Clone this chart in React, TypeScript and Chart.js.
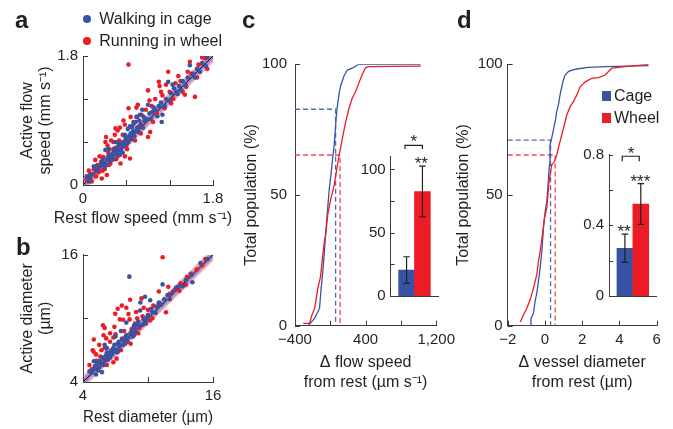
import React, { useEffect, useRef } from 'react';
import { Chart, registerables } from 'chart.js';

Chart.register(...registerables);

const FONT = "'Liberation Sans', Arial, Helvetica, sans-serif";
const TEXT = '#231f20';
const AXIS = '#3a3a3a';
const BLUE = '#3953a4';
const RED = '#ed1c24';
const BLUE_DASH = '#5269b4';
const RED_DASH = '#ef4a50';
const BAND_RED = 'rgba(237,100,120,0.55)';
const BAND_BLUE = 'rgba(100,120,215,0.6)';

Chart.defaults.font.family = FONT;
Chart.defaults.color = TEXT;

type Pt = [number, number];

// ---------------- Panel a : flow speed (mm s-1) ----------------
const aWalkingCage: Pt[] = [
  [0.05, 0.12], [0.1, 0.1], [0.15, 0.26], [0.18, 0.2], [0.22, 0.25], [0.25, 0.3], [0.28, 0.3], [0.31, 0.49],
  [0.33, 0.35], [0.35, 0.4], [0.38, 0.42], [0.4, 0.38], [0.42, 0.45], [0.44, 0.5], [0.46, 0.44], [0.48, 0.52],
  [0.5, 0.55], [0.52, 0.48], [0.54, 0.58], [0.56, 0.6], [0.58, 0.7], [0.6, 0.62], [0.62, 0.78], [0.64, 0.68],
  [0.66, 0.72], [0.68, 0.8], [0.7, 0.85], [0.72, 0.75], [0.75, 0.8], [0.78, 0.9], [0.8, 0.85], [0.84, 0.95],
  [0.88, 0.92], [0.92, 1.0], [0.96, 1.02], [1.0, 1.05], [1.05, 1.1], [1.1, 0.98], [1.09, 0.88], [1.15, 1.2],
  [1.18, 1.44], [1.22, 1.28], [1.26, 1.35], [1.29, 1.3], [1.33, 1.38], [1.38, 1.45], [1.45, 1.5], [1.48, 1.67],
  [1.52, 1.55], [1.58, 1.62], [1.65, 1.7], [1.72, 1.78], [0.36, 0.5], [0.45, 0.6], [0.55, 0.45], [0.65, 0.82],
  [0.74, 0.95], [0.82, 1.05], [0.9, 1.12], [0.3, 0.25], [0.08, 0.05], [0.12, 0.15], [0.2, 0.22], [0.27, 0.35],
  [0.32, 0.28], [0.37, 0.33], [0.41, 0.41], [0.43, 0.36], [0.47, 0.47], [0.49, 0.58], [0.51, 0.42], [0.53, 0.52],
  [0.57, 0.54], [0.59, 0.66], [0.61, 0.58], [0.63, 0.6], [0.67, 0.64], [0.69, 0.74], [0.71, 0.68], [0.73, 0.88],
  [0.77, 0.74], [0.79, 0.98], [0.83, 0.8], [0.86, 0.9], [0.94, 0.92], [0.98, 1.08], [1.03, 0.96], [1.08, 1.15],
  [1.13, 1.1], [1.2, 1.18], [1.24, 1.4], [1.31, 1.27], [1.36, 1.32], [1.42, 1.4], [1.55, 1.5], [1.62, 1.58],
  [1.7, 1.66],
];
const aRunningWheel: Pt[] = [
  [0.08, 0.2], [0.05, 0.08], [0.17, 0.35], [0.2, 0.28], [0.26, 0.09], [0.33, 0.14], [0.28, 0.39], [0.31, 0.6],
  [0.32, 0.67], [0.42, 0.6], [0.45, 0.79], [0.48, 0.76], [0.58, 0.84], [0.63, 1.07], [0.74, 1.08], [0.81, 0.98],
  [0.63, 1.68], [0.65, 0.37], [0.58, 0.4], [0.93, 0.74], [0.9, 0.67], [0.9, 1.32], [1.05, 1.44], [1.06, 1.38],
  [1.13, 1.07], [1.18, 1.58], [1.32, 1.52], [1.41, 1.26], [1.43, 1.37], [1.48, 1.72], [1.55, 1.23], [1.69, 1.77],
  [1.72, 1.62], [0.35, 0.45], [0.4, 0.35], [0.45, 0.52], [0.5, 0.62], [0.55, 0.7], [0.6, 0.55], [0.52, 0.3],
  [0.38, 0.3], [0.3, 0.22], [0.22, 0.18], [0.15, 0.22], [0.7, 0.88], [0.75, 0.95], [0.78, 0.82], [0.85, 0.9],
  [0.95, 1.1], [1.0, 1.2], [1.02, 1.0], [1.1, 1.25], [1.2, 1.3], [1.25, 1.2], [1.35, 1.45], [1.5, 1.55],
  [1.6, 1.68], [0.68, 0.72], [0.62, 0.65], [0.48, 0.4], [0.42, 0.5], [0.25, 0.32], [0.12, 0.05], [0.1, 0.15],
  [0.18, 0.12], [0.23, 0.4], [0.27, 0.2], [0.34, 0.55], [0.36, 0.28], [0.39, 0.62], [0.44, 0.7], [0.46, 0.36],
  [0.51, 0.8], [0.53, 0.55], [0.56, 0.9], [0.61, 0.5], [0.66, 0.95], [0.72, 0.62], [0.76, 1.12], [0.8, 0.72],
  [0.87, 1.05], [0.92, 1.18], [0.97, 0.88], [1.08, 1.3], [1.15, 1.4], [1.22, 1.14], [1.28, 1.42], [1.38, 1.3],
  [1.45, 1.58], [1.58, 1.5], [1.65, 1.78],
];
const aRange: Pt = [0, 1.8];
const aTicks = [0, 0.6, 1.2, 1.8];
const aTickLabels = ['0', '', '', '1.8'];
const aBandRedHalf = 0.09;
const aBandBlueHalf = 0.05;

// ---------------- Panel b : diameter (um) ----------------
const bWalkingCage: Pt[] = [
  [8.28, 13.93], [14.84, 15.22], [14.1, 13.4], [11.35, 13.2], [9.73, 12.04], [9.27, 10.74], [10.8, 11.1], [11.2, 11.3],
  [5.0, 5.95], [5.75, 4.93], [5.0, 5.2], [5.3, 5.8], [5.5, 6.0], [5.8, 6.3], [6.0, 6.0], [6.2, 6.8], [6.4, 6.6],
  [6.6, 6.9], [6.8, 7.2], [7.0, 7.0], [7.2, 7.6], [7.4, 7.4], [7.6, 8.0], [7.8, 7.9], [8.0, 8.4], [8.2, 8.2],
  [8.5, 8.8], [8.8, 9.0], [9.0, 9.4], [9.3, 9.3], [9.6, 9.9], [10.0, 10.3], [10.4, 10.6], [11.0, 11.5], [11.8, 12.2],
  [12.3, 12.5], [12.8, 13.0], [13.5, 13.6], [15.5, 15.6], [6.0, 7.5], [7.5, 8.8], [5.5, 5.4], [6.5, 6.3], [7.3, 7.0],
  [8.6, 8.3], [9.8, 9.6], [4.6, 5.0], [5.2, 4.7], [4.8, 4.9], [5.1, 5.5], [5.4, 5.1], [5.6, 5.9], [5.9, 5.6],
  [6.1, 6.5], [6.3, 6.1], [6.7, 6.6], [6.9, 7.5], [7.1, 6.8], [7.3, 7.8], [7.7, 7.5], [7.9, 8.2], [8.1, 7.8],
  [8.4, 8.6], [8.7, 9.3], [8.9, 8.7], [9.1, 9.7], [9.5, 9.4], [9.9, 10.0], [10.3, 10.9], [10.7, 10.5], [11.5, 11.8],
  [12.0, 11.8], [12.6, 12.9], [13.2, 13.0], [14.0, 14.1], [8.0, 9.6], [7.0, 8.3], [6.2, 7.2], [9.3, 11.5], [10.2, 11.7],
];
const bRunningWheel: Pt[] = [
  [11.35, 15.76], [13.95, 14.2], [13.5, 13.16], [14.5, 14.6], [11.0, 12.53], [11.87, 12.97], [9.4, 11.88], [8.35, 11.76],
  [7.58, 11.2], [8.0, 11.0], [6.97, 10.43], [5.84, 9.35], [7.7, 9.87], [8.3, 9.9], [9.0, 10.0], [11.66, 10.58],
  [4.97, 6.88], [6.8, 5.86], [6.14, 8.11], [6.8, 8.2], [5.0, 8.0], [5.5, 7.5], [6.0, 7.2], [6.5, 7.8], [7.0, 8.5],
  [7.3, 7.5], [7.8, 8.8], [8.5, 9.0], [8.8, 9.5], [9.5, 10.2], [10.0, 10.8], [10.5, 11.2], [10.2, 9.8], [9.2, 9.1],
  [7.5, 7.0], [6.3, 6.5], [5.3, 5.6], [4.8, 5.2], [6.0, 6.2], [5.7, 7.0], [7.2, 6.8], [8.0, 8.3], [8.7, 8.4],
  [9.8, 9.5], [12.5, 12.7], [13.0, 13.3], [15.0, 15.0], [5.2, 6.0], [6.6, 7.0], [7.9, 7.6], [4.6, 5.6], [4.9, 7.0],
  [5.2, 6.6], [5.6, 6.4], [5.9, 8.4], [6.2, 5.6], [6.5, 8.6], [6.9, 9.2], [7.1, 6.2], [7.4, 9.9], [7.6, 8.1],
  [8.2, 10.4], [8.4, 7.6], [8.9, 10.6], [9.1, 8.6], [9.6, 11.0], [10.4, 10.0], [11.0, 11.4], [12.0, 12.3], [12.9, 12.6],
  [13.6, 13.9], [15.3, 15.6], [6.0, 9.1], [7.2, 10.9],
];
const bRange: Pt = [4, 16];
const bTicks = [4, 10, 16];
const bTickLabels = ['4', '', '16'];
const bBandRedHalf = 0.6;
const bBandBlueHalf = 0.33;

// ---------------- Panel c : cumulative distribution of flow speed change ----------------
const cCageCdf: Pt[] = [
  [-252, 0], [-178, 2.8], [-122, 6.6], [-104, 14.3], [-85, 20.7], [-67, 28.3], [-48, 37.3], [-30, 44.9],
  [-11, 52.6], [7, 57.6], [26, 64], [44, 69], [63, 78], [74, 82.5], [100, 88.9], [119, 92], [156, 95.6],
  [193, 97.8], [248, 98.5], [322, 100], [1022, 100],
];
const cWheelCdf: Pt[] = [
  [-307, 0.9], [-233, 0.9], [-215, 3.4], [-178, 6.6], [-141, 14.3], [-111, 18.8], [-85, 27.1], [-67, 32.2],
  [-48, 36], [-30, 42.4], [7, 48.8], [37, 52.6], [63, 57.7], [100, 65.3], [137, 71.7], [174, 78], [211, 83.1],
  [248, 87], [285, 89.5], [322, 92.7], [359, 95.9], [396, 98.5], [422, 99.1], [1026, 99.3],
];
const cCageMarker: Pt = [60, 82.8];
const cWheelMarker: Pt = [110, 65.3];
const cXRange: Pt = [-400, 1200];
const cXTicks = [-400, 0, 400, 800, 1200];
const cXTickLabels = ['\u2212400', '', '400', '', '1,200'];
const popTicks = [0, 50, 100];
const popTickLabels = ['0', '50', '100'];

// inset c : mean flow speed change (um s-1)
const insetGroups = ['Cage', 'Wheel'];
const insetPositions = [2, 4];
const cInsetMeans = [20.5, 82.5];
const cInsetErrors = [10.5, 20];
const cInsetTicks = [0, 25, 50, 75, 100];
const cInsetTickLabels = ['0', '', '50', '', '100'];
const cInsetStars = [
  { text: '*', x: 2.9, y: 125.5 },
  { text: '**', x: 3.85, y: 108 },
];
const cInsetBracket = { from: 1.8, to: 4.0, y: 119, end: 116 };

// ---------------- Panel d : cumulative distribution of diameter change ----------------
const dCageCdf: Pt[] = [
  [-1.1, 0], [-0.8, 0], [-0.75, 2.8], [-0.62, 4.7], [-0.53, 9.3], [-0.44, 12.4], [-0.35, 16.9], [-0.26, 22],
  [-0.17, 28.3], [-0.08, 37.3], [0.01, 43.7], [0.1, 47.5], [0.18, 55.1], [0.24, 61.5], [0.27, 69.1], [0.36, 71.7],
  [0.51, 76.8], [0.58, 79.3], [0.63, 81.9], [0.72, 84.4], [0.81, 88.3], [0.9, 91.4], [0.99, 94], [1.08, 95.9],
  [1.26, 97.2], [1.44, 97.8], [1.71, 98.2], [2.33, 98.8], [3.23, 99.1], [5.56, 99.5],
];
const dWheelCdf: Pt[] = [
  [-1.32, 1.4], [-1.16, 4.1], [-0.98, 6.6], [-0.8, 9.8], [-0.62, 14.3], [-0.44, 19.4], [-0.35, 24.5], [-0.26, 28.3],
  [-0.17, 32.8], [-0.03, 41.1], [0.1, 45], [0.22, 55.1], [0.36, 61.5], [0.51, 62.8], [0.63, 65.3], [0.76, 69.1],
  [0.9, 72.9], [1.04, 76.8], [1.17, 80.6], [1.35, 83.8], [1.53, 85.7], [1.71, 88.3], [1.89, 91.4], [2.16, 93.3],
  [2.51, 94.6], [2.87, 94.9], [3.23, 95.9], [3.59, 98.5], [4.31, 99.1], [5.56, 100],
];
const dCageMarker: Pt = [0.3, 71];
const dWheelMarker: Pt = [0.55, 65.3];
const dXRange: Pt = [-2, 6];
const dXTicks = [-2, 0, 2, 4, 6];
const dXTickLabels = ['\u22122', '0', '2', '4', '6'];

// inset d : mean diameter change (um)
const dInsetMeans = [0.27, 0.52];
const dInsetErrors = [0.08, 0.115];
const dInsetTicks = [0, 0.2, 0.4, 0.6, 0.8];
const dInsetTickLabels = ['0', '', '0.4', '', '0.8'];
const dInsetStars = [
  { text: '*', x: 2.77, y: 0.83 },
  { text: '**', x: 1.9, y: 0.387 },
  { text: '***', x: 3.95, y: 0.673 },
];
const dInsetBracket = { from: 1.67, to: 3.8, y: 0.79, end: 0.762 };

// ---------------- helpers ----------------
const toXY = (pts: Pt[]) => pts.map(([x, y]) => ({ x, y }));
const identityLine = (r: Pt) => [{ x: r[0], y: r[0] }, { x: r[1], y: r[1] }];
const bandShape = (r: Pt, w: number) => [
  { x: r[0], y: r[0] + w }, { x: r[1] - w, y: r[1] }, { x: r[1], y: r[1] },
  { x: r[1], y: r[1] - w }, { x: r[0] + w, y: r[0] }, { x: r[0], y: r[0] },
];
const markerPath = (m: Pt, xmin: number) => [{ x: xmin, y: m[1] }, { x: m[0], y: m[1] }, { x: m[0], y: 0 }];

function axis(o: {
  min: number; max: number; ticks: number[]; labels: string[]; pad: number; size: number;
  title?: string | string[]; titlePad?: { top: number; bottom: number }; titleLH?: number; showLabels?: boolean;
}) {
  return {
    type: 'linear',
    min: o.min,
    max: o.max,
    offset: false,
    grid: { display: false, drawTicks: false },
    border: { display: true, color: AXIS, width: 1 },
    afterBuildTicks: (s: any) => { s.ticks = o.ticks.map((v) => ({ value: v })); },
    afterFit: (s: any) => { if (s.isHorizontal()) s.height = o.size; else s.width = o.size; },
    ticks: {
      display: o.showLabels !== false,
      autoSkip: false,
      maxRotation: 0,
      minRotation: 0,
      padding: o.pad,
      color: TEXT,
      font: { size: 15, family: FONT },
      callback: (_v: any, i: number) => o.labels[i] ?? '',
    },
    title: o.title
      ? { display: true, text: o.title, color: TEXT, font: { size: 16, family: FONT, lineHeight: o.titleLH ?? 1.2 }, padding: o.titlePad ?? { top: 0, bottom: 0 } }
      : { display: false },
  };
}

function innerTicks(axes: string[], len: number) {
  return {
    id: 'innerTicks',
    afterDraw(chart: any) {
      const { ctx, chartArea } = chart;
      ctx.save();
      ctx.strokeStyle = AXIS;
      ctx.lineWidth = 1;
      for (const id of axes) {
        const s = chart.scales[id];
        for (const t of s.ticks) {
          const p = Math.round(s.getPixelForValue(t.value)) + 0.5;
          ctx.beginPath();
          if (s.isHorizontal()) {
            ctx.moveTo(p, chartArea.bottom);
            ctx.lineTo(p, chartArea.bottom - len);
          } else {
            ctx.moveTo(chartArea.left, p);
            ctx.lineTo(chartArea.left + len, p);
          }
          ctx.stroke();
        }
      }
      ctx.restore();
    },
  };
}

// x-axis title drawn centred on a given pixel column, without Chart.js's width squeeze
function freeXTitle(text: string, centerX: number, centerY: number) {
  return {
    id: 'freeXTitle',
    afterDraw(chart: any) {
      const { ctx } = chart;
      ctx.save();
      ctx.fillStyle = TEXT;
      ctx.font = `16px ${FONT}`;
      ctx.textAlign = 'center';
      ctx.textBaseline = 'middle';
      ctx.fillText(text, centerX, centerY);
      ctx.restore();
    },
  };
}

function insetMarks(means: number[], errors: number[], stars: { text: string; x: number; y: number }[], bracket: { from: number; to: number; y: number; end: number }) {
  return {
    id: 'insetMarks',
    afterDatasetsDraw(chart: any) {
      const { ctx } = chart;
      const xs = chart.scales.x;
      const ys = chart.scales.y;
      ctx.save();
      ctx.strokeStyle = '#231f20';
      ctx.lineWidth = 1.2;
      insetPositions.forEach((pos, i) => {
        const px = xs.getPixelForValue(pos);
        const top = ys.getPixelForValue(means[i] + errors[i]);
        const bot = ys.getPixelForValue(means[i] - errors[i]);
        ctx.beginPath();
        ctx.moveTo(px, top); ctx.lineTo(px, bot);
        ctx.moveTo(px - 3.3, top); ctx.lineTo(px + 3.3, top);
        ctx.moveTo(px - 3.3, bot); ctx.lineTo(px + 3.3, bot);
        ctx.stroke();
      });
      const bx0 = xs.getPixelForValue(bracket.from);
      const bx1 = xs.getPixelForValue(bracket.to);
      const by = ys.getPixelForValue(bracket.y);
      const be = ys.getPixelForValue(bracket.end);
      ctx.beginPath();
      ctx.moveTo(bx0, be); ctx.lineTo(bx0, by); ctx.lineTo(bx1, by); ctx.lineTo(bx1, be);
      ctx.stroke();
      ctx.fillStyle = '#231f20';
      ctx.font = `17px ${FONT}`;
      ctx.textAlign = 'center';
      ctx.textBaseline = 'alphabetic';
      for (const s of stars) {
        ctx.fillText(s.text, xs.getPixelForValue(s.x), ys.getPixelForValue(s.y) + 0.57 * 17);
      }
      ctx.restore();
    },
  };
}

const baseOptions = (padding: { left: number; top: number; right: number; bottom: number }) => ({
  animation: false,
  responsive: false,
  maintainAspectRatio: false,
  events: [],
  layout: { padding },
  plugins: { legend: { display: false }, tooltip: { enabled: false }, title: { display: false } },
});

function scatterConfig(cage: Pt[], wheel: Pt[], range: Pt, ticks: number[], labels: string[], redHalf: number, blueHalf: number,
  top: number, right: number, yTitle: string[], xTitle: string, xTitlePad: number, freeTitle?: { x: number; y: number }) {
  return {
    type: 'scatter',
    data: {
      datasets: [
        { label: 'Walking in cage', data: toXY(cage), backgroundColor: BLUE, borderWidth: 0, pointRadius: 2.3, order: 0 },
        { label: 'Running in wheel', data: toXY(wheel), backgroundColor: RED, borderWidth: 0, pointRadius: 2.3, order: 1 },
        { label: 'Unity', data: identityLine(range), showLine: true, borderColor: '#000', borderWidth: 1, pointRadius: 0, order: 2 },
        { label: 'Cage band', data: bandShape(range, blueHalf), showLine: true, borderColor: 'rgba(0,0,0,0)', borderWidth: 0, pointRadius: 0, fill: 'shape', backgroundColor: BAND_BLUE, order: 3 },
        { label: 'Wheel band', data: bandShape(range, redHalf), showLine: true, borderColor: 'rgba(0,0,0,0)', borderWidth: 0, pointRadius: 0, fill: 'shape', backgroundColor: BAND_RED, order: 4 },
      ],
    },
    options: {
      ...baseOptions({ left: 0, top, right, bottom: 0 }),
      scales: {
        x: axis({ min: range[0], max: range[1], ticks, labels, pad: 5, size: 47, title: freeTitle ? undefined : xTitle, titlePad: { top: 0, bottom: xTitlePad } }),
        y: axis({ min: range[0], max: range[1], ticks, labels, pad: 5, size: 83, title: yTitle, titleLH: 1.1, titlePad: { top: 19.2, bottom: 0 } }),
      },
    },
    plugins: freeTitle ? [innerTicks(['x', 'y'], 5), freeXTitle(xTitle, freeTitle.x, freeTitle.y)] : [innerTicks(['x', 'y'], 5)],
  };
}

function cdfConfig(cage: Pt[], wheel: Pt[], cageMark: Pt, wheelMark: Pt, xr: Pt, xt: number[], xl: string[],
  ySize: number, right: number, yPad: number, yTitlePad: number, xTitle: string[]) {
  return {
    type: 'scatter',
    data: {
      datasets: [
        { label: 'Cage', data: toXY(cage), showLine: true, borderColor: BLUE, borderWidth: 1.3, pointRadius: 0, order: 1 },
        { label: 'Wheel', data: toXY(wheel), showLine: true, borderColor: RED, borderWidth: 1.3, pointRadius: 0, order: 0 },
        { label: 'Cage marker', data: markerPath(cageMark, xr[0]), showLine: true, borderColor: BLUE_DASH, borderWidth: 1.3, borderDash: [5, 3], pointRadius: 0, order: 2 },
        { label: 'Wheel marker', data: markerPath(wheelMark, xr[0]), showLine: true, borderColor: RED_DASH, borderWidth: 1.3, borderDash: [5, 3], pointRadius: 0, order: 3 },
      ],
    },
    options: {
      ...baseOptions({ left: 0, top: 24.3, right, bottom: 0 }),
      scales: {
        x: axis({ min: xr[0], max: xr[1], ticks: xt, labels: xl, pad: 5, size: 74.3, title: xTitle, titleLH: 1.25, titlePad: { top: 0, bottom: 7 } }),
        y: axis({ min: 0, max: 100, ticks: popTicks, labels: popTickLabels, pad: yPad, size: ySize, title: 'Total population (%)', titlePad: { top: yTitlePad, bottom: 0 } }),
      },
    },
    plugins: [innerTicks(['x', 'y'], 5)],
  };
}

function insetConfig(means: number[], errors: number[], yMax: number, yt: number[], yl: string[], ySize: number, top: number, right: number, xSize: number,
  stars: { text: string; x: number; y: number }[], bracket: { from: number; to: number; y: number; end: number }) {
  return {
    type: 'bar',
    data: {
      datasets: [{
        label: 'Mean change',
        data: insetPositions.map((x, i) => ({ x, y: means[i], group: insetGroups[i] })),
        backgroundColor: [BLUE, RED],
        borderWidth: 0,
        categoryPercentage: 1,
        barPercentage: 1,
      }],
    },
    options: {
      ...baseOptions({ left: 0, top, right, bottom: 0 }),
      scales: {
        x: axis({ min: 0, max: 6, ticks: [], labels: [], pad: 0, size: xSize, showLabels: false }),
        y: axis({ min: 0, max: yMax, ticks: yt, labels: yl, pad: 5, size: ySize }),
      },
    },
    plugins: [innerTicks(['y'], 4), insetMarks(means, errors, stars, bracket)],
  };
}

type Box = { left: number; top: number; width: number; height: number };

function ChartBox({ box, config }: { box: Box; config: () => any }) {
  const ref = useRef<HTMLCanvasElement | null>(null);
  useEffect(() => {
    if (!ref.current) return;
    const chart = new Chart(ref.current, config());
    return () => chart.destroy();
  }, []);
  return (
    <canvas
      ref={ref}
      width={box.width}
      height={box.height}
      style={{ position: 'absolute', left: box.left, top: box.top, width: box.width, height: box.height }}
    />
  );
}

const letterStyle = (left: number, top: number): React.CSSProperties => ({
  position: 'absolute', left, top, font: `bold 24px ${FONT}`, lineHeight: '24px', color: TEXT, margin: 0,
});
const textStyle = (left: number, top: number): React.CSSProperties => ({
  position: 'absolute', left, top, font: `16px ${FONT}`, lineHeight: '16px', color: TEXT, whiteSpace: 'nowrap',
});

export default function App() {
  return (
    <div style={{ position: 'absolute', left: 0, top: 0, width: 673, height: 429, background: '#fff', overflow: 'hidden' }}>
      <ChartBox box={{ left: 0, top: 0, width: 240, height: 232 }}
        config={() => scatterConfig(aWalkingCage, aRunningWheel, aRange, aTicks, aTickLabels, aBandRedHalf, aBandBlueHalf, 56, 27,
          ['Active flow', 'speed (mm s\u207B\u00B9)'], 'Rest flow speed (mm s\u207B\u00B9)', 3.4, { x: 143, y: 219 })} />
      <ChartBox box={{ left: 0, top: 232, width: 230, height: 197 }}
        config={() => scatterConfig(bWalkingCage, bRunningWheel, bRange, bTicks, bTickLabels, bBandRedHalf, bBandBlueHalf, 22.7, 17,
          ['Active diameter', '(\u00B5m)'], 'Rest diameter (\u00B5m)', 1.4)} />
      <ChartBox box={{ left: 230, top: 40, width: 230, height: 360 }}
        config={() => cdfConfig(cCageCdf, cWheelCdf, cCageMarker, cWheelMarker, cXRange, cXTicks, cXTickLabels, 65, 21, 8, 12.4,
          ['\u0394 flow speed', 'from rest (\u00B5m s\u207B\u00B9)'])} />
      <ChartBox box={{ left: 450, top: 40, width: 223, height: 360 }}
        config={() => cdfConfig(dCageCdf, dWheelCdf, dCageMarker, dWheelMarker, dXRange, dXTicks, dXTickLabels, 57.7, 16.3, 5, 4.4,
          ['\u0394 vessel diameter', 'from rest (\u00B5m)'])} />
      <ChartBox box={{ left: 350, top: 120, width: 100, height: 190 }}
        config={() => insetConfig(cInsetMeans, cInsetErrors, 110, cInsetTicks, cInsetTickLabels, 40.7, 36.7, 11.7, 6.7, cInsetStars, cInsetBracket)} />
      <ChartBox box={{ left: 565, top: 120, width: 105, height: 190 }}
        config={() => insetConfig(dInsetMeans, dInsetErrors, 0.8, dInsetTicks, dInsetTickLabels, 44, 34.5, 13.3, 7.3, dInsetStars, dInsetBracket)} />

      <div style={letterStyle(15, 8)}>a</div>
      <div style={letterStyle(16, 235)}>b</div>
      <div style={letterStyle(242, 8)}>c</div>
      <div style={letterStyle(457, 8)}>d</div>

      <div style={{ position: 'absolute', left: 83.3, top: 15, width: 8, height: 8, borderRadius: 4, background: BLUE }} />
      <div style={textStyle(99.3, 11)}>Walking in cage</div>
      <div style={{ position: 'absolute', left: 83.3, top: 37, width: 8, height: 8, borderRadius: 4, background: RED }} />
      <div style={textStyle(99.3, 33)}>Running in wheel</div>

      <div style={{ position: 'absolute', left: 601.7, top: 91, width: 9, height: 10, background: BLUE }} />
      <div style={textStyle(614, 88)}>Cage</div>
      <div style={{ position: 'absolute', left: 601.7, top: 113.3, width: 9, height: 10, background: RED }} />
      <div style={textStyle(614, 110)}>Wheel</div>
    </div>
  );
}
